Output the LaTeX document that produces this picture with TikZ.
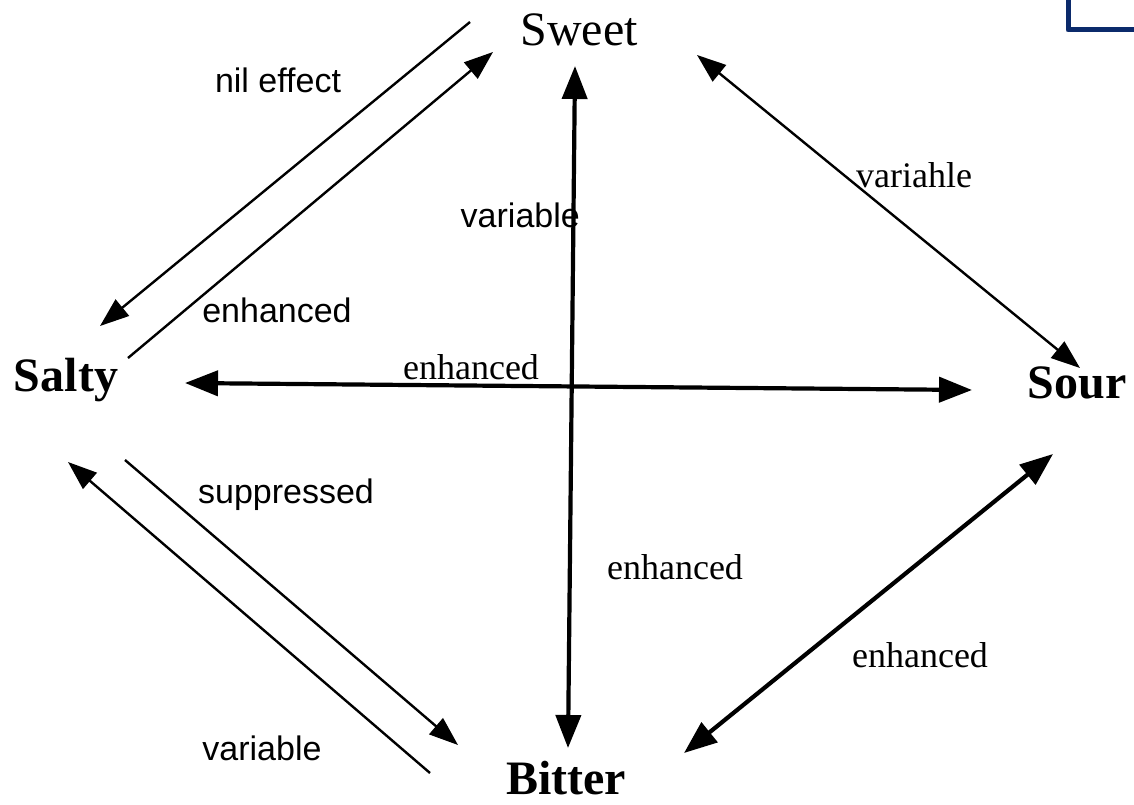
\documentclass[tikz,border=0pt]{standalone}
\usepackage{fontspec}
\setmainfont{Liberation Serif}
\newfontfamily\labsans{Liberation Sans}
\usetikzlibrary{arrows.meta}
\definecolor{navyline}{HTML}{0B2A6B}
\begin{document}
\begin{tikzpicture}[x=1pt,y=-1pt,
  taste/.style={inner sep=0pt, font=\fontsize{48}{50}\selectfont\bfseries},
  tastereg/.style={inner sep=0pt, font=\fontsize{48}{50}\selectfont},
  slab/.style={inner sep=0pt, font=\labsans\fontsize{34}{36}\selectfont},
  rlab/.style={inner sep=0pt, font=\fontsize{36}{38}\selectfont},
  thin/.style={line width=2.4pt, -{Triangle[length=29pt,width=21pt]}},
  thindbl/.style={line width=2.4pt, {Triangle[length=29pt,width=21pt]}-{Triangle[length=29pt,width=21pt]}},
  thickdbl/.style={line width=4.2pt, {Triangle[length=33pt,width=25pt]}-{Triangle[length=33pt,width=25pt]}}]
\useasboundingbox (0,0) rectangle (1134,805);
\fill[white] (0,0) rectangle (1134,805);
% blue corner mark
\draw[navyline, line width=5pt, line join=round] (1068,0) -- (1068,30) -- (1134,30);
% taste nodes
\node[tastereg] (sweet) at (579,30) {Sweet};
\node[taste] (salty) at (66,380) {Salty};
\node[taste] (sour) at (1077,383) {Sour};
\node[taste] (bitter) at (566,778) {Bitter};
% connector end points
\coordinate (ne1) at (470,22);   \coordinate (ne2) at (100,326);
\coordinate (en1) at (128,358);  \coordinate (en2) at (493,52);
\coordinate (v1) at (575,66);    \coordinate (v2) at (568,748);
\coordinate (h1) at (185,383);   \coordinate (h2) at (972,390);
\coordinate (ss1) at (697,55);   \coordinate (ss2) at (1080,368);
\coordinate (sb1) at (1053,454); \coordinate (sb2) at (684,753);
\coordinate (su1) at (125,460);  \coordinate (su2) at (458,745);
\coordinate (va1) at (430,773);  \coordinate (va2) at (68,462);
% connectors
\draw[thin] (ne1) -- (ne2);
\draw[thin] (en1) -- (en2);
\draw[thickdbl] (v1) -- (v2);
\draw[thickdbl] (h1) -- (h2);
\draw[thindbl] (ss1) -- (ss2);
\draw[thickdbl] (sb1) -- (sb2);
\draw[thin] (su1) -- (su2);
\draw[thin] (va1) -- (va2);
% labels
\node[slab] (l1) at (278,80) {nil effect};
\node[slab] (l2) at (277,310) {enhanced};
\node[rlab] (l3) at (471,367) {enhanced};
\node[slab, anchor=east] (l4) at (580,215) {variable};
\node[rlab] (l5) at (914,175) {variahle};
\node[slab] (l6) at (286,495) {suppressed};
\node[rlab] (l7) at (675,567) {enhanced};
\node[rlab] (l8) at (920,655) {enhanced};
\node[slab] (l9) at (262,748) {variable};
\end{tikzpicture}
\end{document}
